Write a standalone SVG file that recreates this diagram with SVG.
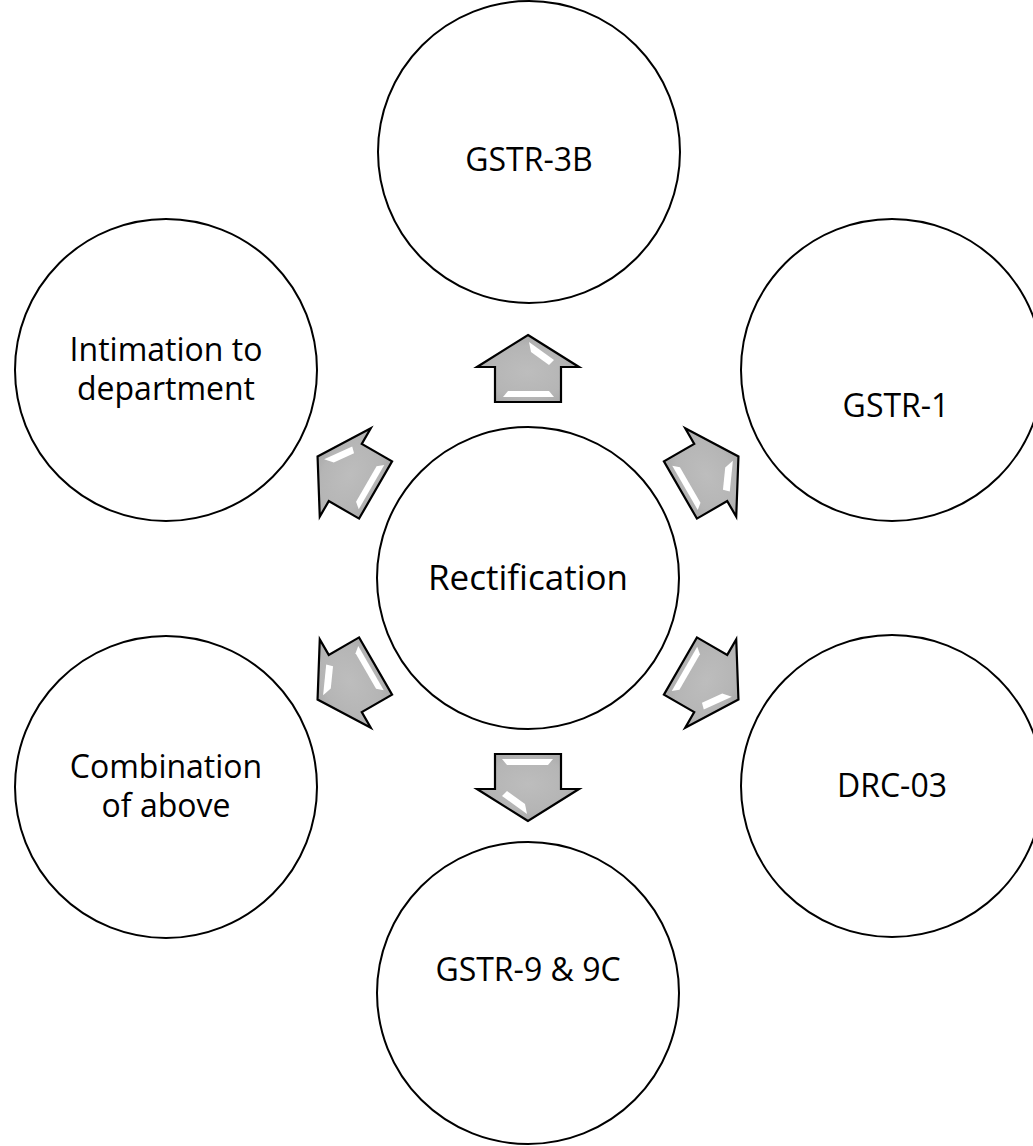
<svg xmlns="http://www.w3.org/2000/svg" width="1033" height="1146" viewBox="0 0 1033 1146">
<style>
.node{fill:#ffffff;stroke:#000000;stroke-width:2}
.lbl{font-family:"Open Sans","Liberation Sans",sans-serif;font-size:32px;fill:#000000;text-anchor:middle}
.big{font-size:35px}
.arr{stroke:#000000;stroke-width:2.2;stroke-linejoin:miter}
.hl{fill:#ffffff}
</style>
<defs>
<radialGradient id="ag" cx="0.5" cy="0.55" r="0.65">
<stop offset="0" stop-color="#bdbdbd"/>
<stop offset="0.6" stop-color="#b5b5b5"/>
<stop offset="1" stop-color="#a2a2a2"/>
</radialGradient>
<g id="arrow">
<polygon class="arr" fill="url(#ag)" points="0,-243 51,-211 33,-211 33,-176 -33,-176 -33,-211 -51,-211"/>
<polygon class="hl" points="1,-236 26,-218 21,-213 3,-226"/>
<polygon class="hl" points="-25,-181 26,-181 21,-187 -20,-187"/>
</g>
</defs>
<g id="connectors">
<use href="#arrow" transform="rotate(0 528 578) translate(528 578)"/>
<use href="#arrow" transform="rotate(60 528 578) translate(528 578)"/>
<use href="#arrow" transform="rotate(120 528 578) translate(528 578)"/>
<use href="#arrow" transform="rotate(180 528 578) translate(528 578)"/>
<use href="#arrow" transform="rotate(240 528 578) translate(528 578)"/>
<use href="#arrow" transform="rotate(300 528 578) translate(528 578)"/>
</g>
<g id="center">
<circle class="node" cx="528" cy="578" r="151"/>
<text class="lbl big" x="528" y="590">Rectification</text>
</g>
<g id="gstr3b">
<circle class="node" cx="529" cy="152" r="151"/>
<text class="lbl" x="529" y="171">GSTR-3B</text>
</g>
<g id="gstr1">
<circle class="node" cx="892" cy="370" r="151"/>
<text class="lbl" x="896" y="417">GSTR-1</text>
</g>
<g id="drc03">
<circle class="node" cx="892" cy="786" r="151"/>
<text class="lbl" x="892" y="797">DRC-03</text>
</g>
<g id="gstr9">
<circle class="node" cx="528" cy="993" r="151"/>
<text class="lbl" x="528" y="981">GSTR-9 &amp; 9C</text>
</g>
<g id="combination">
<circle class="node" cx="166" cy="787" r="151"/>
<text class="lbl" x="166" y="778">Combination</text>
<text class="lbl" x="166" y="817">of above</text>
</g>
<g id="intimation">
<circle class="node" cx="166" cy="370" r="151"/>
<text class="lbl" x="166" y="361">Intimation to</text>
<text class="lbl" x="166" y="400">department</text>
</g>
</svg>
